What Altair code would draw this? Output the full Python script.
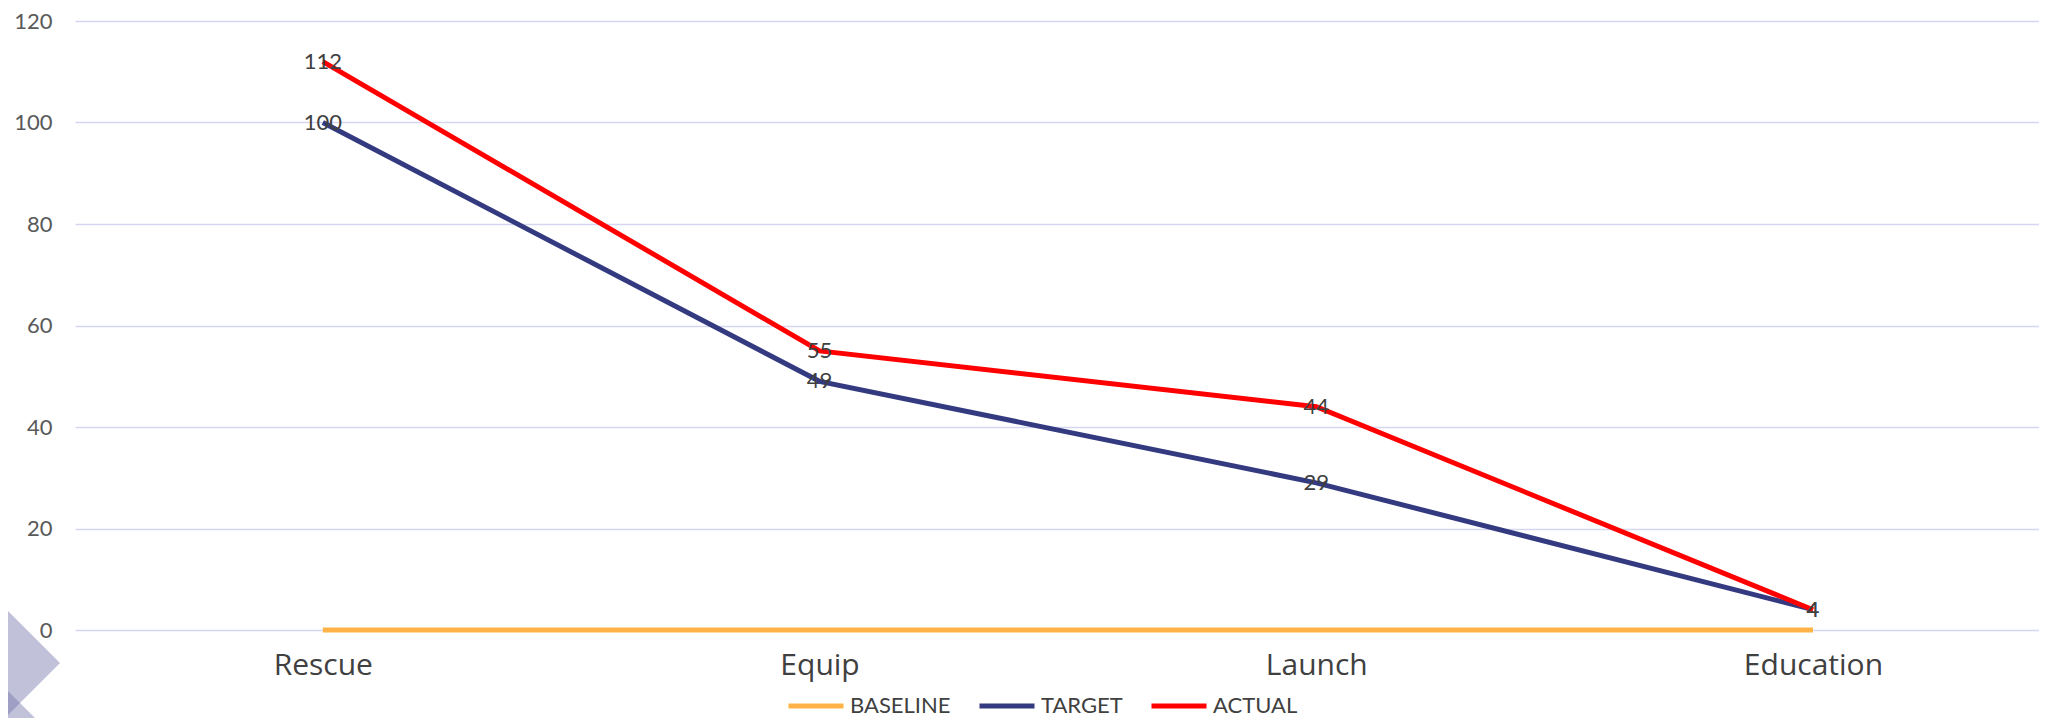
import altair as alt
import pandas as pd

categories = ["Rescue", "Equip", "Launch", "Education"]
baseline = [0, 0, 0, 0]
target = [100, 49, 29, 4]
actual = [112, 55, 44, 4]
series_names = ["BASELINE", "TARGET", "ACTUAL"]
series_colors = ["#FFB347", "#333A80", "#FF0000"]
y_ticks = [0, 20, 40, 60, 80, 100, 120]

rows = []
for name, vals in zip(series_names, [baseline, target, actual]):
    for c, v in zip(categories, vals):
        rows.append({"category": c, "series": name, "value": v})
df = pd.DataFrame(rows)

x = alt.X(
    "category:N",
    sort=categories,
    scale=alt.Scale(type="point", padding=0.477, align=0.523),
    axis=alt.Axis(title=None, labelAngle=0, domain=False, ticks=False, grid=False,
                  labelFont="Open Sans", labelFontSize=30, labelColor="#404040",
                  labelPadding=20),
)
y = alt.Y(
    "value:Q",
    scale=alt.Scale(domain=[0, 120], nice=False),
    axis=alt.Axis(title=None, values=y_ticks, domain=False, ticks=False,
                  labelFont="Lato", labelFontSize=22, labelColor="#595959",
                  labelPadding=23, gridColor="#D6D6F2", gridWidth=1.5),
)
color = alt.Color(
    "series:N",
    sort=series_names,
    scale=alt.Scale(domain=series_names, range=series_colors),
    legend=alt.Legend(title=None, orient="none", direction="horizontal",
                      legendX=711, legendY=655, symbolType="stroke",
                      symbolSize=3025, symbolStrokeWidth=5,
                      labelFont="Lato", labelFontSize=22, labelColor="#404040",
                      labelOffset=4, columnPadding=18),
)

deco = pd.DataFrame({"k": [0]})
diamond1 = alt.Chart(deco).mark_point(shape="diamond", filled=True, size=14400,
                                      color="#7676AD", opacity=0.45).encode(
    x=alt.value(-75), y=alt.value(642))
diamond2 = alt.Chart(deco).mark_point(shape="diamond", filled=True, size=14400,
                                      color="#7676AD", opacity=0.45).encode(
    x=alt.value(-75), y=alt.value(722))

base = alt.Chart(df)
layers = [diamond1, diamond2]
for name in series_names:
    layers.append(
        base.transform_filter(alt.datum.series == name)
        .mark_line(strokeWidth=5)
        .encode(x=x, y=y, color=color)
    )
text = base.transform_filter(alt.datum.series != "BASELINE").mark_text(
    font="Lato", fontSize=22, color="#404040", align="center", baseline="middle"
).encode(x=x, y=y, text="value:Q")
layers.append(text)

chart = alt.layer(*layers).properties(
    width=1964, height=609,
    autosize=alt.AutoSizeParams(type="none"),
    padding={"left": 67, "top": 13, "right": 0, "bottom": 88},
    background="white",
).configure_view(stroke=None)

chart.save("out.html", embed_options={"renderer": "svg", "actions": False})
